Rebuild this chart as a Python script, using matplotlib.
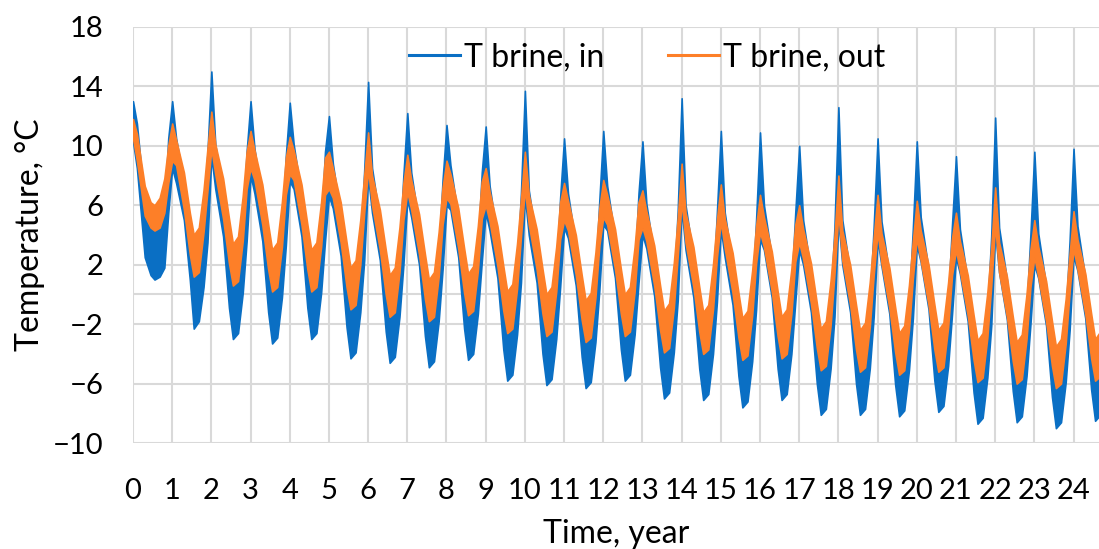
import numpy as np
import matplotlib
matplotlib.use('Agg')
import matplotlib.pyplot as plt
from matplotlib.lines import Line2D

plt.rcParams['font.family'] = ['Lato', 'DejaVu Sans']

# Años y fases dentro de cada ciclo anual (pico, bajada, valle, subida)
years = list(range(25))
phase = [0.0, 0.1, 0.3, 0.45, 0.55, 0.68, 0.8, 0.9]

# Envolventes (una fila por año, una columna por fase)
t_in_lo = [
    [10.3, 8.5, 2.5, 1.3, 1.0, 1.2, 1.8, 5.5],
    [8.5, 7.5, 5.0, 1.0, -2.3, -1.8, 0.5, 3.5],
    [9.3, 7.1, 3.9, -0.9, -3.0, -2.6, 0.1, 3.6],
    [8.0, 6.8, 3.6, -1.2, -3.3, -2.9, -0.2, 3.3],
    [7.6, 7.1, 3.9, -0.9, -3.0, -2.6, 0.1, 3.6],
    [6.6, 5.8, 2.6, -2.2, -4.3, -3.9, -1.2, 2.3],
    [7.9, 5.5, 2.3, -2.5, -4.6, -4.2, -1.5, 2.0],
    [6.4, 5.2, 2.0, -2.8, -4.9, -4.5, -1.8, 1.7],
    [6.0, 5.7, 2.5, -2.3, -4.4, -4.0, -1.3, 2.2],
    [5.5, 4.3, 1.1, -3.7, -5.8, -5.4, -2.7, 0.8],
    [6.6, 4.0, 0.8, -4.0, -6.1, -5.7, -3.0, 0.5],
    [4.5, 3.8, 0.6, -4.2, -6.3, -5.9, -3.2, 0.3],
    [4.7, 4.3, 1.1, -3.7, -5.8, -5.4, -2.7, 0.8],
    [4.0, 3.1, -0.1, -4.9, -7.0, -6.6, -3.9, -0.4],
    [5.8, 3.0, -0.2, -5.0, -7.1, -6.7, -4.0, -0.5],
    [4.4, 2.5, -0.7, -5.5, -7.6, -7.2, -4.5, -1.0],
    [3.7, 3.0, -0.2, -5.0, -7.1, -6.7, -4.0, -0.5],
    [3.0, 2.0, -1.2, -6.0, -8.1, -7.7, -5.0, -1.5],
    [5.0, 2.0, -1.2, -6.0, -8.1, -7.7, -5.0, -1.5],
    [3.7, 1.9, -1.3, -6.1, -8.2, -7.8, -5.1, -1.6],
    [3.3, 2.2, -1.0, -5.8, -7.9, -7.5, -4.8, -1.3],
    [2.5, 1.4, -1.8, -6.6, -8.7, -8.3, -5.6, -2.1],
    [4.2, 1.5, -1.7, -6.5, -8.6, -8.2, -5.5, -2.0],
    [2.0, 1.1, -2.1, -6.9, -9.0, -8.6, -5.9, -2.4],
    [2.6, 1.6, -1.6, -6.4, -8.5, -8.1, -5.4, -1.9],
]
t_in_hi = [
    [13.0, 11.5, 6.0, 4.5, 4.3, 4.5, 5.5, 10.5],
    [13.0, 10.5, 7.5, 4.0, 1.5, 2.0, 5.0, 9.5],
    [15.0, 10.1, 6.6, 3.1, 0.8, 1.6, 4.6, 9.6],
    [13.0, 9.8, 6.3, 2.8, 0.5, 1.3, 4.3, 9.3],
    [12.9, 10.1, 6.6, 3.1, 0.8, 1.6, 4.6, 9.6],
    [12.0, 8.8, 5.3, 1.8, -0.5, 0.3, 3.3, 8.3],
    [14.3, 8.5, 5.0, 1.5, -0.8, 0.0, 3.0, 8.0],
    [12.2, 8.2, 4.7, 1.2, -1.1, -0.3, 2.7, 7.7],
    [11.4, 8.7, 5.2, 1.7, -0.6, 0.2, 3.2, 8.2],
    [11.3, 7.3, 3.8, 0.3, -2.0, -1.2, 1.8, 6.8],
    [13.7, 7.0, 3.5, 0.0, -2.3, -1.5, 1.5, 6.5],
    [10.5, 6.8, 3.3, -0.2, -2.5, -1.7, 1.3, 6.3],
    [11.0, 7.3, 3.8, 0.3, -2.0, -1.2, 1.8, 6.8],
    [10.3, 6.1, 2.6, -0.9, -3.2, -2.4, 0.6, 5.6],
    [13.2, 6.0, 2.5, -1.0, -3.3, -2.5, 0.5, 5.5],
    [11.0, 5.5, 2.0, -1.5, -3.8, -3.0, 0.0, 5.0],
    [10.9, 6.0, 2.5, -1.0, -3.3, -2.5, 0.5, 5.5],
    [10.0, 5.0, 1.5, -2.0, -4.3, -3.5, -0.5, 4.5],
    [12.6, 5.0, 1.5, -2.0, -4.3, -3.5, -0.5, 4.5],
    [10.5, 4.9, 1.4, -2.1, -4.4, -3.6, -0.6, 4.4],
    [10.3, 5.2, 1.7, -1.8, -4.1, -3.3, -0.3, 4.7],
    [9.3, 4.4, 0.9, -2.6, -4.9, -4.1, -1.1, 3.9],
    [11.9, 4.5, 1.0, -2.5, -4.8, -4.0, -1.0, 4.0],
    [9.6, 4.1, 0.6, -2.9, -5.2, -4.4, -1.4, 3.6],
    [9.8, 4.6, 1.1, -2.4, -4.7, -3.9, -0.9, 4.1],
]
t_out_lo = [
    [10.5, 9.0, 5.3, 4.5, 4.3, 4.5, 5.5, 7.5],
    [9.0, 8.7, 5.7, 2.7, 1.2, 1.5, 4.2, 7.0],
    [9.8, 8.1, 5.1, 2.1, 0.6, 0.9, 3.6, 7.1],
    [8.5, 7.7, 4.7, 1.7, 0.2, 0.5, 3.2, 6.7],
    [8.1, 7.7, 4.7, 1.7, 0.2, 0.5, 3.2, 6.7],
    [7.1, 6.5, 3.5, 0.5, -1.0, -0.7, 2.0, 5.5],
    [8.4, 6.0, 3.0, 0.0, -1.5, -1.2, 1.5, 5.0],
    [6.9, 5.7, 2.7, -0.3, -1.8, -1.5, 1.2, 4.7],
    [6.5, 6.1, 3.1, 0.1, -1.4, -1.1, 1.6, 5.1],
    [6.0, 4.9, 1.9, -1.1, -2.6, -2.3, 0.4, 3.9],
    [7.1, 4.7, 1.7, -1.3, -2.8, -2.5, 0.2, 3.7],
    [5.0, 4.3, 1.3, -1.7, -3.2, -2.9, -0.2, 3.3],
    [5.2, 4.7, 1.7, -1.3, -2.8, -2.5, 0.2, 3.7],
    [4.5, 3.6, 0.6, -2.4, -3.9, -3.6, -0.9, 2.6],
    [6.3, 3.5, 0.5, -2.5, -4.0, -3.7, -1.0, 2.5],
    [4.9, 3.1, 0.1, -2.9, -4.4, -4.1, -1.4, 2.1],
    [4.2, 3.2, 0.2, -2.8, -4.3, -4.0, -1.3, 2.2],
    [3.5, 2.4, -0.6, -3.6, -5.1, -4.8, -2.1, 1.4],
    [5.5, 2.3, -0.7, -3.7, -5.2, -4.9, -2.2, 1.3],
    [4.2, 2.1, -0.9, -3.9, -5.4, -5.1, -2.4, 1.1],
    [3.8, 2.3, -0.7, -3.7, -5.2, -4.9, -2.2, 1.3],
    [3.0, 1.6, -1.4, -4.4, -5.9, -5.6, -2.9, 0.6],
    [4.7, 1.5, -1.5, -4.5, -6.0, -5.7, -3.0, 0.5],
    [2.5, 1.2, -1.8, -4.8, -6.3, -6.0, -3.3, 0.2],
    [3.1, 1.7, -1.3, -4.3, -5.8, -5.5, -2.8, 0.7],
]
t_out_hi = [
    [11.8, 10.8, 7.3, 6.2, 6.0, 6.5, 7.8, 10.0],
    [11.5, 10.4, 8.2, 5.5, 4.0, 4.5, 7.0, 9.8],
    [12.3, 10.1, 7.8, 5.1, 3.4, 3.9, 6.6, 9.6],
    [11.0, 9.7, 7.4, 4.7, 3.0, 3.5, 6.2, 9.2],
    [10.6, 9.7, 7.4, 4.7, 3.0, 3.5, 6.2, 9.2],
    [9.6, 8.5, 6.2, 3.5, 1.8, 2.3, 5.0, 8.0],
    [10.9, 8.0, 5.7, 3.0, 1.3, 1.8, 4.5, 7.5],
    [9.4, 7.7, 5.4, 2.7, 1.0, 1.5, 4.2, 7.2],
    [9.0, 8.1, 5.8, 3.1, 1.4, 1.9, 4.6, 7.6],
    [8.5, 6.9, 4.6, 1.9, 0.2, 0.7, 3.4, 6.4],
    [9.6, 6.7, 4.4, 1.7, 0.0, 0.5, 3.2, 6.2],
    [7.5, 6.3, 4.0, 1.3, -0.4, 0.1, 2.8, 5.8],
    [7.7, 6.7, 4.4, 1.7, 0.0, 0.5, 3.2, 6.2],
    [7.0, 5.6, 3.3, 0.6, -1.1, -0.6, 2.1, 5.1],
    [8.8, 5.5, 3.2, 0.5, -1.2, -0.7, 2.0, 5.0],
    [7.4, 5.1, 2.8, 0.1, -1.6, -1.1, 1.6, 4.6],
    [6.7, 5.2, 2.9, 0.2, -1.5, -1.0, 1.7, 4.7],
    [6.0, 4.4, 2.1, -0.6, -2.3, -1.8, 0.9, 3.9],
    [8.0, 4.3, 2.0, -0.7, -2.4, -1.9, 0.8, 3.8],
    [6.7, 4.1, 1.8, -0.9, -2.6, -2.1, 0.6, 3.6],
    [6.3, 4.3, 2.0, -0.7, -2.4, -1.9, 0.8, 3.8],
    [5.5, 3.6, 1.3, -1.4, -3.1, -2.6, 0.1, 3.1],
    [7.2, 3.5, 1.2, -1.5, -3.2, -2.7, 0.0, 3.0],
    [5.0, 3.2, 0.9, -1.8, -3.5, -3.0, -0.3, 2.7],
    [5.6, 3.7, 1.4, -1.3, -3.0, -2.5, 0.2, 3.2],
]

y_ticks = [18, 14, 10, 6, 2, -2, -6, -10]

# Eje de tiempo: año + fase
t = (np.array(years)[:, None] + np.array(phase)[None, :]).ravel()

c_in = '#0A6FC4'
c_out = '#FD7F28'

fig = plt.figure(figsize=(10.99, 5.49), dpi=100)
ax = fig.add_axes([0.121, 0.193, 0.879, 0.758])

ax.fill_between(t, np.ravel(t_in_lo), np.ravel(t_in_hi), color=c_in, lw=1.2, zorder=2)
ax.fill_between(t, np.ravel(t_out_lo), np.ravel(t_out_hi), color=c_out, lw=1.2, zorder=3)

ax.set_xlim(0, 24.65)
ax.set_ylim(-10, 18)
ax.set_xticks(years)
ax.set_yticks(y_ticks)
ax.grid(True, color='#d9d9d9', lw=1.5, zorder=0)
ax.axhline(0, color='#d9d9d9', lw=1.5, zorder=0)
ax.set_axisbelow(True)
for s in ax.spines.values():
    s.set_visible(False)
ax.tick_params(length=0, labelsize=21)
ax.tick_params(axis='y', pad=21)
ax.tick_params(axis='x', pad=25)

ax.set_xlabel('Time, year', fontsize=23, labelpad=11)
ax.set_ylabel('Temperature, \u00b0C', fontsize=23, labelpad=6)

handles = [Line2D([], [], color=c_in, lw=2.2), Line2D([], [], color=c_out, lw=2.2)]
fig.legend(handles, ['T brine, in', 'T brine, out'], loc='center',
           bbox_to_anchor=(0.589, 0.896), ncol=2, frameon=False, fontsize=23,
           handlelength=1.6, handletextpad=0.12, columnspacing=2.0)

fig.savefig('out.png', dpi=100)
